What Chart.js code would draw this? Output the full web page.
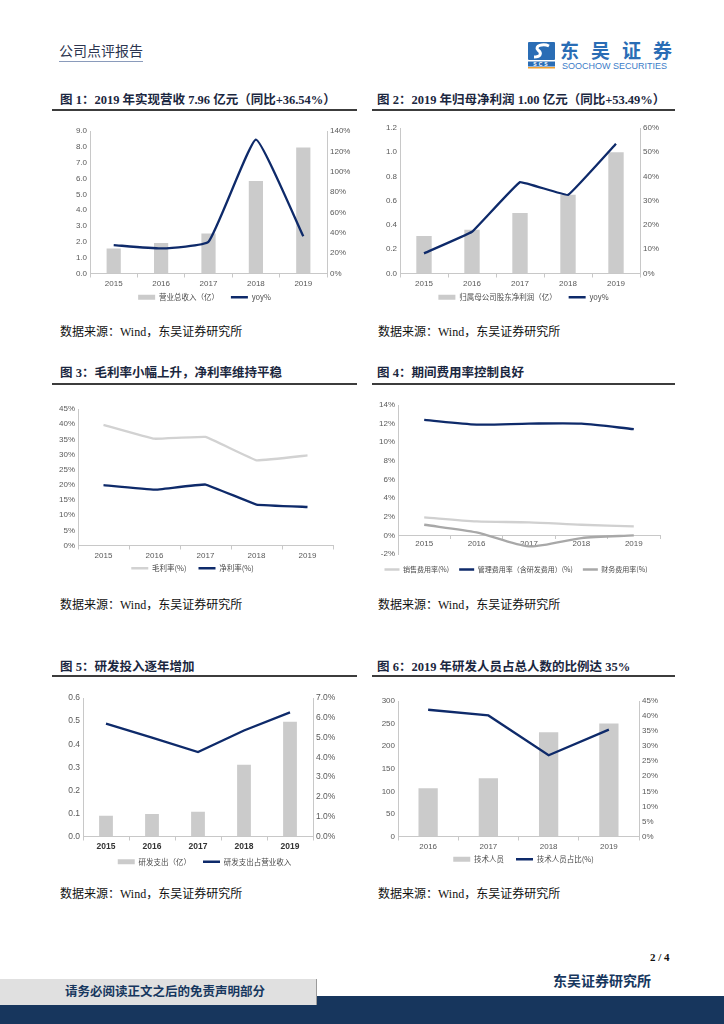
<!DOCTYPE html>
<html>
<head>
<meta charset="utf-8">
<script src="https://cdn.jsdelivr.net/npm/chart.js@4.4.1/dist/chart.umd.min.js"></script>
<style>
body{margin:0;width:724px;height:1024px;position:relative;background:#fff;overflow:hidden;font-family:"Liberation Serif","Noto Sans CJK SC",serif;}
.title{position:absolute;font-weight:bold;font-size:12.5px;color:#1b2740;white-space:nowrap;line-height:14px;}
.rule{position:absolute;height:2px;background:#3c3c3c;}
.src{position:absolute;font-size:12px;color:#111;white-space:nowrap;line-height:14px;}
canvas{position:absolute;}
</style>
</head>
<body>
<div style="position:absolute;left:59px;top:44px;font-size:14px;line-height:16px;color:#2c3550;border-bottom:1px solid #8a9bbb;padding-bottom:1px;">公司点评报告</div>
<svg style="position:absolute;left:528px;top:42px" width="28" height="28" viewBox="0 0 28 28">
  <rect x="0" y="0" width="27" height="18" rx="1" fill="#2a6db5"/>
  <path d="M21 4 C15 1 6 4 10 8 C14 11 13 15 6 15" stroke="#fff" stroke-width="3" fill="none"/>
  <rect x="0" y="19.5" width="27" height="5" fill="#2a6db5"/>
  <text x="13.5" y="23.6" font-size="5" fill="#fff" text-anchor="middle" font-family="Liberation Sans" font-weight="bold" letter-spacing="2">SCS</text>
  <rect x="0" y="25" width="27" height="1.5" fill="#f2a02e"/>
</svg>
<div style="position:absolute;left:560px;top:39px;font-family:'Noto Sans CJK SC';font-weight:bold;font-size:19px;line-height:21px;letter-spacing:12px;color:#2a6db5;">东吴证券</div>
<div style="position:absolute;left:562px;top:61px;font-family:'Liberation Sans';font-size:9px;line-height:10px;color:#3b7cc8;">SOOCHOW SECURITIES</div>

<div class="title" style="left:60px;top:93px;">图 1：2019 年实现营收 7.96 亿元（同比+36.54%）</div>
<div class="title" style="left:377px;top:93px;">图 2：2019 年归母净利润 1.00 亿元（同比+53.49%）</div>
<div class="rule" style="left:52px;top:109px;width:305px;"></div>
<div class="rule" style="left:372px;top:109px;width:303px;"></div>
<canvas id="c1" width="305" height="200" style="left:52px;top:118px;"></canvas>
<canvas id="c2" width="303" height="200" style="left:372px;top:118px;"></canvas>
<div class="src" style="left:60px;top:325px;">数据来源：Wind，东吴证券研究所</div>
<div class="src" style="left:378px;top:325px;">数据来源：Wind，东吴证券研究所</div>

<div class="title" style="left:60px;top:366px;">图 3：毛利率小幅上升，净利率维持平稳</div>
<div class="title" style="left:377px;top:366px;">图 4：期间费用率控制良好</div>
<div class="rule" style="left:52px;top:383px;width:305px;"></div>
<div class="rule" style="left:372px;top:383px;width:303px;"></div>
<canvas id="c3" width="305" height="190" style="left:52px;top:400px;"></canvas>
<canvas id="c4" width="303" height="186" style="left:372px;top:395px;"></canvas>
<div class="src" style="left:60px;top:598px;">数据来源：Wind，东吴证券研究所</div>
<div class="src" style="left:378px;top:598px;">数据来源：Wind，东吴证券研究所</div>

<div class="title" style="left:60px;top:660px;">图 5：研发投入逐年增加</div>
<div class="title" style="left:377px;top:660px;">图 6：2019 年研发人员占总人数的比例达 35%</div>
<div class="rule" style="left:52px;top:675px;width:305px;"></div>
<div class="rule" style="left:372px;top:675px;width:303px;"></div>
<canvas id="c5" width="305" height="193" style="left:52px;top:688px;"></canvas>
<canvas id="c6" width="303" height="191" style="left:372px;top:690px;"></canvas>
<div class="src" style="left:60px;top:887px;">数据来源：Wind，东吴证券研究所</div>
<div class="src" style="left:378px;top:887px;">数据来源：Wind，东吴证券研究所</div>

<div style="position:absolute;left:650px;top:951px;font-weight:bold;font-size:11px;line-height:12px;color:#111;">2 / 4</div>
<div style="position:absolute;left:553px;top:974px;font-weight:bold;font-size:14px;line-height:16px;color:#17375e;">东吴证券研究所</div>
<div style="position:absolute;left:0;top:996px;width:724px;height:28px;background:#17365d;"></div>
<div style="position:absolute;left:0;top:979px;width:316px;height:26px;background:#e0e0e0;border-right:1px solid #9a9a9a;"></div>
<div style="position:absolute;left:65px;top:985px;font-weight:bold;font-size:12.5px;line-height:15px;color:#17375e;">请务必阅读正文之后的免责声明部分</div>

<script>
// 数据
const years = ['2015', '2016', '2017', '2018', '2019'];
const revenue = [1.58, 1.92, 2.53, 5.85, 7.96];
const revenueYoy = [27.9, 24.6, 31.1, 131.5, 36.5];
const netProfit = [0.31, 0.36, 0.50, 0.65, 1.00];
const netProfitYoy = [8.3, 17.2, 37.7, 32.4, 53.5];
const grossMargin = [39.8, 35.2, 35.8, 28.1, 29.7];
const netMargin = [19.9, 18.4, 20.1, 13.5, 12.7];
const salesRate = [1.93, 1.5, 1.4, 1.14, 0.96];
const adminRate = [12.4, 11.9, 12.0, 12.0, 11.4];
const financeRate = [1.14, 0.32, -1.18, -0.29, 0.0];
const rdSpend = [0.09, 0.098, 0.107, 0.311, 0.497];
const rdRatio = [5.7, 5.0, 4.27, 5.36, 6.27];
const staffYears = ['2016', '2017', '2018', '2019'];
const techStaff = [107, 129, 231, 250];
const techRatio = [42.1, 40.2, 27.0, 35.5];

const NAVY = '#0e2a6a';
const BAR = '#cbcbcb';
const AX = '#c8c8c8';
const TICK = '#595959';
const tickFont = {family: 'Liberation Sans', size: 8};

function fixW(w) { return s => { s.width = w; }; }
function fixH(h) { return s => { s.height = h; }; }
const pct = v => v + '%';
const one = v => v.toFixed(1);

// moves the legend up (or down) after layout so it sits where the reference has it
const legendLift = {
  id: 'legendLift',
  afterLayout(chart, args, opts) {
    const dy = opts.dy || 0;
    if (chart.legend) { chart.legend.top -= dy; chart.legend.bottom -= dy; }
  }
};
Chart.register(legendLift);

function legendOpts(size, pad, sw) {
  return {
    position: 'bottom',
    labels: {
      usePointStyle: true, pointStyleWidth: sw || 17, boxHeight: 5, padding: pad || 12,
      font: {family: 'Noto Sans CJK SC', size: size || 7.5}, color: '#4a4a4a',
      generateLabels(chart) {
        const items = Chart.defaults.plugins.legend.labels.generateLabels(chart);
        items.forEach(it => {
          const ds = chart.data.datasets[it.datasetIndex];
          if (ds.type === 'bar') {
            it.pointStyle = 'rect'; it.lineWidth = 0;
            it.fillStyle = ds.backgroundColor; it.strokeStyle = ds.backgroundColor;
          } else {
            it.pointStyle = 'line'; it.lineWidth = 2.5; it.strokeStyle = ds.borderColor;
          }
        });
        return items.sort((a, b) => a.datasetIndex - b.datasetIndex);
      }
    }
  };
}

function xAxis(extra) {
  return Object.assign({
    type: 'category', offset: true,
    grid: {offset: true, drawOnChartArea: false, tickLength: 4, color: AX},
    border: {color: AX},
    ticks: {font: tickFont, color: TICK, padding: 1, maxRotation: 0, autoSkip: false},
    afterFit: fixH(15)
  }, extra || {});
}

function yAxis(pos, min, max, step, fmt, w, font) {
  return {
    position: pos, min: min, max: max,
    ticks: {stepSize: step, font: font || tickFont, color: TICK, padding: 3, callback: fmt},
    grid: {drawOnChartArea: false, drawTicks: false, color: AX},
    border: {color: AX},
    afterFit: fixW(w)
  };
}

function lineSet(label, data, color, tension, axis) {
  return {type: 'line', label: label, data: data, borderColor: color, backgroundColor: color,
    borderWidth: 2.3, pointRadius: 0, pointHoverRadius: 0, tension: tension, yAxisID: axis || 'y', order: 0};
}

function barSet(label, data, pctW) {
  return {type: 'bar', label: label, data: data, backgroundColor: BAR, barPercentage: pctW,
    categoryPercentage: 1, yAxisID: 'y', order: 1};
}

function base(pad, dy, legend) {
  return {
    responsive: false, animation: false,
    layout: {padding: pad},
    plugins: {legend: legend || legendOpts(), tooltip: {enabled: false}, legendLift: {dy: dy}}
  };
}

// 图1
new Chart(document.getElementById('c1'), {
  type: 'bar',
  data: {labels: years, datasets: [
    barSet('营业总收入（亿）', revenue, 0.3),
    lineSet('yoy%', revenueYoy, NAVY, 0.12, 'y1')
  ]},
  options: Object.assign(base({top: 13, left: 0, right: 0, bottom: 0}, 7), {
    scales: {
      x: xAxis(),
      y: yAxis('left', 0, 9, 1, one, 38),
      y1: yAxis('right', 0, 140, 20, pct, 30)
    }
  })
});

// 图2
new Chart(document.getElementById('c2'), {
  type: 'bar',
  data: {labels: years, datasets: [
    barSet('归属母公司股东净利润（亿）', netProfit, 0.32),
    lineSet('yoy%', netProfitYoy, NAVY, 0.06, 'y1')
  ]},
  options: Object.assign(base({top: 10, left: 0, right: 0, bottom: 0}, 7), {
    scales: {
      x: xAxis(),
      y: yAxis('left', 0, 1.2, 0.2, one, 28),
      y1: yAxis('right', 0, 60, 10, pct, 35)
    }
  })
});

// 图3
new Chart(document.getElementById('c3'), {
  type: 'line',
  data: {labels: years, datasets: [
    lineSet('毛利率(%)', grossMargin, '#d2d2d2', 0.06),
    lineSet('净利率(%)', netMargin, NAVY, 0.06)
  ]},
  options: Object.assign(base({top: 9, left: 0, right: 24, bottom: 0}, 8), {
    scales: {
      x: xAxis(),
      y: yAxis('left', 0, 45, 5, pct, 26)
    }
  })
});

// 图4
new Chart(document.getElementById('c4'), {
  type: 'line',
  data: {labels: years, datasets: [
    lineSet('销售费用率(%)', salesRate, '#d0d0d0', 0.25),
    lineSet('管理费用率（含研发费用）(%)', adminRate, NAVY, 0.25),
    lineSet('财务费用率(%)', financeRate, '#a8a8a8', 0.25)
  ]},
  options: Object.assign(base({top: 10, left: 0, right: 15, bottom: 0}, -2, legendOpts(7, 10, 15)), {
    scales: {
      x: xAxis({position: {y: 0}, grid: {offset: true, drawOnChartArea: false, tickLength: 3, color: AX}, afterFit: undefined}),
      y: yAxis('left', -2, 14, 2, pct, 26)
    }
  })
});

// 图5
const f5 = {family: 'Liberation Sans', size: 8.5};
new Chart(document.getElementById('c5'), {
  type: 'bar',
  data: {labels: years, datasets: [
    barSet('研发支出（亿）', rdSpend, 0.3),
    lineSet('研发支出占营业收入', rdRatio, NAVY, 0, 'y1')
  ]},
  options: Object.assign(base({top: 10, left: 0, right: 0, bottom: 0}, 5.5), {
    scales: {
      x: xAxis({ticks: {font: {family: 'Liberation Sans', size: 8.5, weight: 'bold'}, color: '#333', padding: 1, maxRotation: 0, autoSkip: false}}),
      y: yAxis('left', 0, 0.6, 0.1, one, 31, f5),
      y1: yAxis('right', 0, 7, 1, v => v.toFixed(1) + '%', 44, f5)
    }
  })
});

// 图6
new Chart(document.getElementById('c6'), {
  type: 'bar',
  data: {labels: staffYears, datasets: [
    barSet('技术人员', techStaff, 0.32),
    lineSet('技术人员占比(%)', techRatio, NAVY, 0, 'y1')
  ]},
  options: Object.assign(base({top: 11, left: 0, right: 0, bottom: 0}, 8), {
    scales: {
      x: xAxis(),
      y: yAxis('left', 0, 300, 50, v => v, 26),
      y1: yAxis('right', 0, 45, 5, pct, 36)
    }
  })
});
</script>
</body>
</html>
